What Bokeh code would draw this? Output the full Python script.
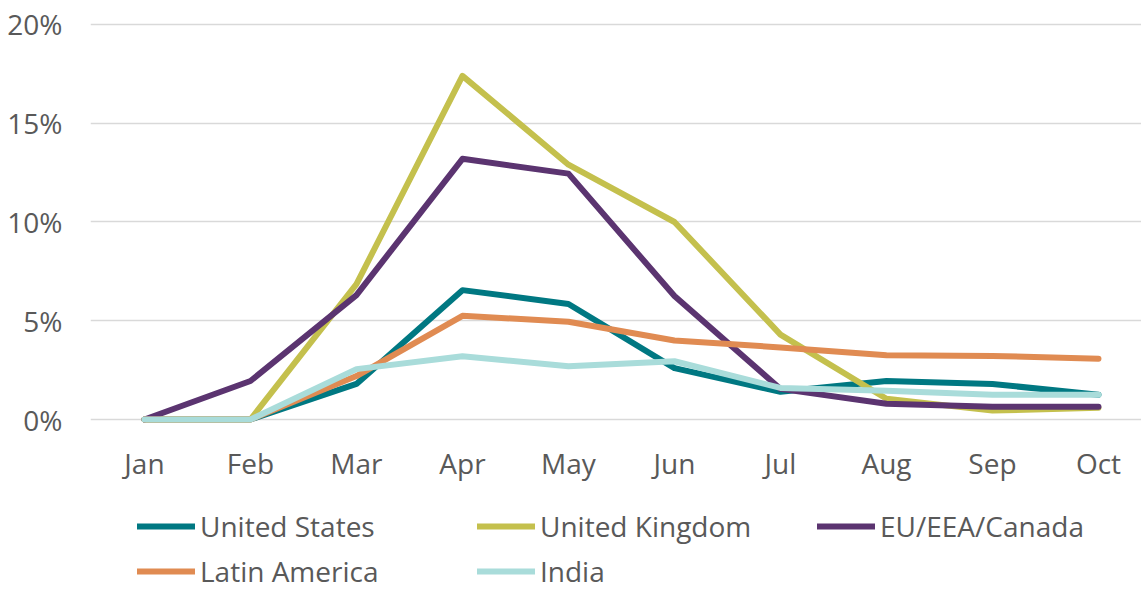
from bokeh.plotting import figure
from bokeh.models import (Range1d, FixedTicker, PrintfTickFormatter, Legend, LegendItem, ColumnDataSource)
from bokeh.core.properties import value
from bokeh.embed import file_html
from bokeh.resources import INLINE

months = ["Jan", "Feb", "Mar", "Apr", "May", "Jun", "Jul", "Aug", "Sep", "Oct"]
united_states = [0, 0, 1.8, 6.55, 5.85, 2.6, 1.4, 1.95, 1.8, 1.25]
united_kingdom = [0, 0, 6.85, 17.4, 12.9, 10.0, 4.3, 1.05, 0.45, 0.6]
eu_eea_canada = [0, 1.95, 6.3, 13.2, 12.45, 6.25, 1.55, 0.8, 0.65, 0.65]
latin_america = [0, 0, 2.2, 5.25, 4.95, 4.0, 3.65, 3.25, 3.22, 3.08]
india = [0, 0, 2.55, 3.2, 2.7, 2.95, 1.6, 1.45, 1.25, 1.25]
y_ticks = [0, 5, 10, 15, 20]

series_names = ["United States", "United Kingdom", "EU/EEA/Canada", "Latin America", "India"]
series_values = [united_states, united_kingdom, eu_eea_canada, latin_america, india]
colors = ["#007882", "#C4C04D", "#5B3470", "#E08B52", "#A9DCDA"]

FONT = "Open Sans"
TXT = "#595959"
FS = "28px"

p = figure(width=1141, height=590, output_backend="svg", toolbar_location=None,
           x_range=Range1d(-0.509, 9.406), y_range=Range1d(-8.658, 20.506),
           min_border_left=90, min_border_right=0, min_border_top=14, min_border_bottom=0)
p.outline_line_color = None
p.background_fill_color = "white"
p.border_fill_color = "white"

xs = list(range(len(months)))
items = []
for name, vals, c in zip(series_names, series_values, colors):
    r = p.line(xs, vals, line_color=c, line_width=6, line_cap="round", line_join="round")
    items.append(LegendItem(label=name, renderers=[r]))

# month labels (category axis), drawn as text under the 0% line
msrc = ColumnDataSource(dict(x=xs, y=[-2.2] * len(months), t=months))
p.text(x="x", y="y", text="t", source=msrc, text_align="center", text_baseline="middle",
       text_font=value(FONT), text_font_size=FS, text_color=TXT)

p.xaxis.visible = False
p.yaxis.ticker = FixedTicker(ticks=y_ticks)
p.yaxis.formatter = PrintfTickFormatter(format="%d%%")
ax = p.yaxis[0]
ax.axis_line_color = None
ax.major_tick_line_color = None
ax.minor_tick_line_color = None
ax.major_tick_out = 0
ax.major_tick_in = 0
ax.major_label_text_font = FONT
ax.major_label_text_font_size = FS
ax.major_label_text_color = TXT
ax.major_label_standoff = 28

p.xgrid.grid_line_color = None
p.ygrid.ticker = FixedTicker(ticks=y_ticks)
p.ygrid.grid_line_color = "#D9D9D9"
p.ygrid.grid_line_width = 1.5

legend = Legend(items=items, location=(47, -1), orientation="horizontal", ncols=3,
                glyph_width=58, glyph_height=40, label_standoff=5, label_width=272,
                label_height=40, spacing=5, padding=0, margin=0,
                label_text_font=FONT, label_text_font_size=FS, label_text_color=TXT,
                border_line_color=None, background_fill_alpha=0)
p.add_layout(legend, "center")

open("out.html", "w").write(file_html(p, INLINE))
